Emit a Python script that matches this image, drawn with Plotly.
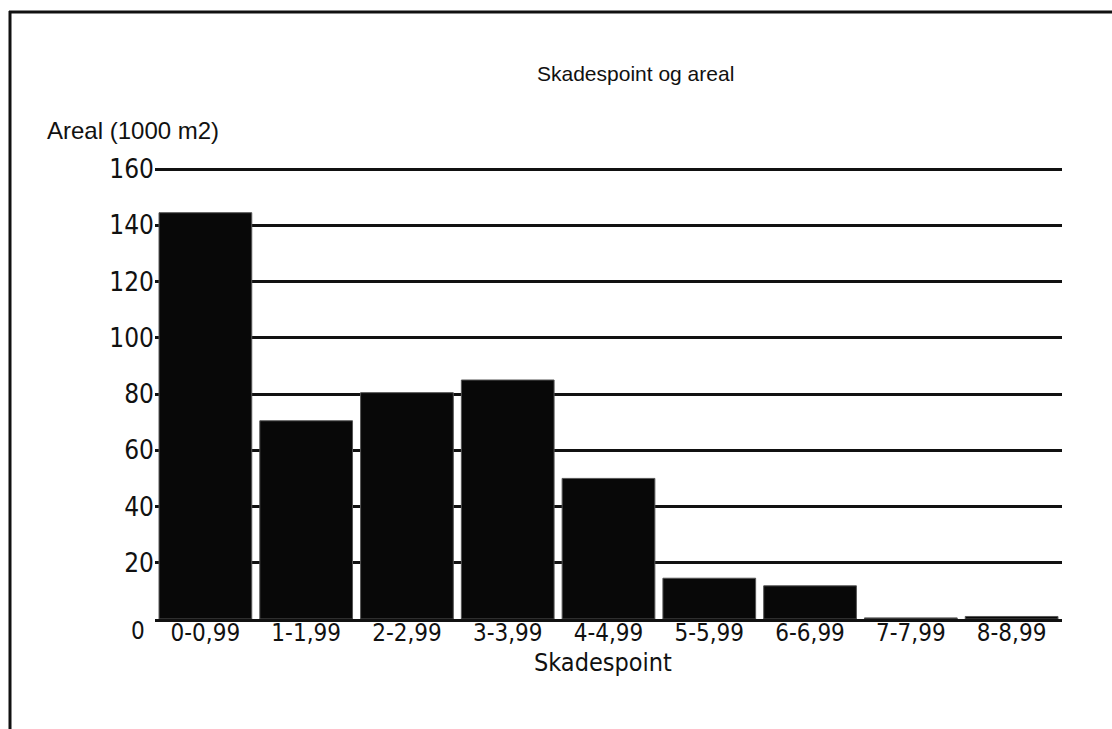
import plotly.graph_objects as go

categories = ["0-0,99", "1-1,99", "2-2,99", "3-3,99", "4-4,99",
              "5-5,99", "6-6,99", "7-7,99", "8-8,99"]
areal = [144.5, 70.5, 80.5, 85, 50, 14.5, 11.8, 0.4, 0.9]
y_ticks = [20, 40, 60, 80, 100, 120, 140, 160]
y_tick_text = [str(v) for v in y_ticks]

W, H = 1112, 729
PL, PR, PT, PB = 155, 1062, 168, 619   # plot area in page pixels
def px(X):
    return (X - PL) / (PR - PL)
def py(Y):
    return (PB - Y) / (PB - PT)

fig = go.Figure()
fig.add_trace(go.Bar(
    x=categories, y=areal,
    marker=dict(color="#080808", line=dict(color="#555555", width=1)),
))

font_narrow = "DejaVu Sans Condensed, Liberation Sans, Arial"
font_main = "Liberation Sans, Arial"

fig.update_layout(
    width=W, height=H,
    paper_bgcolor="white", plot_bgcolor="white",
    margin=dict(l=PL, r=W - PR, t=PT, b=H - PB),
    bargap=0.08,
    showlegend=False,
    xaxis=dict(
        type="category", range=[-0.5, 8.5],
        showgrid=False, showline=True, linecolor="#111", linewidth=3,
        ticks="", ticklabelstandoff=-10,
        tickfont=dict(family=font_narrow, size=24, color="#111"),
        title=dict(text=""),
    ),
    yaxis=dict(
        range=[0, 160.4], tickvals=y_ticks, ticktext=y_tick_text,
        showgrid=True, gridcolor="#111", gridwidth=3,
        zeroline=False, showline=False, ticks="",
        tickfont=dict(family=font_narrow, size=26, color="#111"),
    ),
    shapes=[
        dict(type="line", xref="paper", yref="paper",
             x0=px(9), x1=px(1112), y0=py(12), y1=py(12),
             line=dict(color="#111", width=3)),
        dict(type="line", xref="paper", yref="paper",
             x0=px(10), x1=px(10), y0=py(729), y1=py(11),
             line=dict(color="#111", width=3)),
    ],
    annotations=[
        dict(text="Skadespoint og areal", xref="paper", yref="paper",
             x=px(635), y=py(74), xanchor="center", yanchor="middle",
             showarrow=False,
             font=dict(family=font_main, size=21, color="#111")),
        dict(text="Areal (1000 m2)", xref="paper", yref="paper",
             x=px(45), y=py(130), xanchor="left", yanchor="middle",
             showarrow=False,
             font=dict(family=font_main, size=24, color="#111")),
        dict(text="0", xref="paper", yref="paper",
             x=px(138), y=py(631), xanchor="center", yanchor="middle",
             showarrow=False,
             font=dict(family=font_narrow, size=24, color="#111")),
        dict(text="Skadespoint", xref="paper", yref="paper",
             x=px(603), y=py(662), xanchor="center", yanchor="middle",
             showarrow=False,
             font=dict(family=font_narrow, size=25, color="#111")),
    ],
)

fig.write_html(
    "out.html",
    config={"displayModeBar": False},
    post_script="document.body.style.margin='0';document.body.style.overflow='hidden';",
)
